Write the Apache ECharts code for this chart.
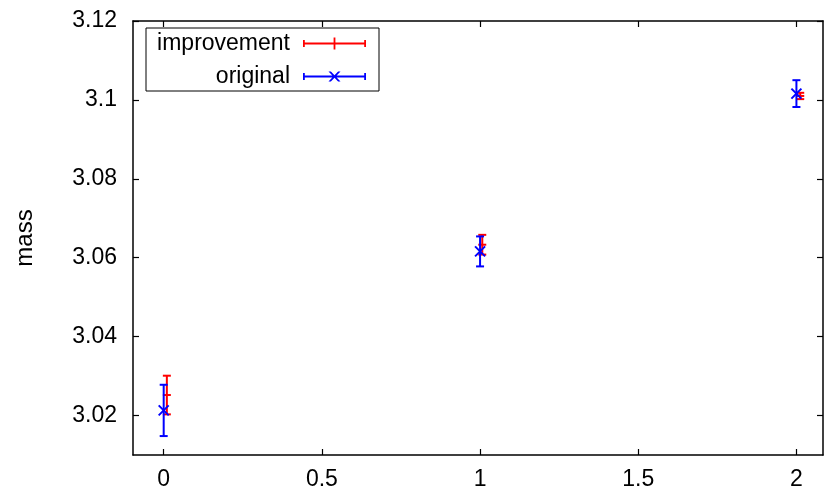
<!DOCTYPE html>
<html>
<head>
<meta charset="utf-8">
<script src="https://cdn.jsdelivr.net/npm/echarts@6/dist/echarts.min.js"></script>
<style>
  html, body { margin: 0; padding: 0; background: #fff; }
  #chart { width: 828px; height: 495px; }
</style>
</head>
<body>
<div id="chart"></div>
<script>
// values
const improvementX = [0.01, 1.007, 2.012];
const improvementY = [3.0252, 3.0633, 3.1010];
const improvementErr = [0.0049, 0.0025, 0.0008];

const originalX = [0, 1, 2];
const originalY = [3.0213, 3.0616, 3.1016];
const originalErr = [0.0065, 0.0038, 0.0034];

const xTicks = [0, 0.5, 1, 1.5, 2];
const yTicks = [3.02, 3.04, 3.06, 3.08, 3.1, 3.12];

const FONT = '"Liberation Sans", Arial, Helvetica, sans-serif';
const FS = 23;

const toData = (xs, ys, es) => xs.map((x, i) => [x, ys[i], ys[i] - es[i], ys[i] + es[i]]);

// error bar + point symbol
const makeRender = (color, mark) => (params, api) => {
  const x = api.value(0);
  const c = api.coord([x, api.value(1)]);
  const lo = api.coord([x, api.value(2)]);
  const hi = api.coord([x, api.value(3)]);
  const cap = 4;
  const style = { stroke: color, lineWidth: 2 };
  const kids = [
    { type: 'line', shape: { x1: lo[0], y1: lo[1], x2: hi[0], y2: hi[1] }, style },
    { type: 'line', shape: { x1: lo[0] - cap, y1: lo[1], x2: lo[0] + cap, y2: lo[1] }, style },
    { type: 'line', shape: { x1: hi[0] - cap, y1: hi[1], x2: hi[0] + cap, y2: hi[1] }, style }
  ];
  if (mark === 'plus') {
    kids.push({ type: 'line', shape: { x1: c[0] - 4, y1: c[1], x2: c[0] + 4, y2: c[1] }, style });
  } else {
    const s = 5;
    kids.push({ type: 'line', shape: { x1: c[0] - s, y1: c[1] - s, x2: c[0] + s, y2: c[1] + s }, style });
    kids.push({ type: 'line', shape: { x1: c[0] - s, y1: c[1] + s, x2: c[0] + s, y2: c[1] - s }, style });
  }
  return { type: 'group', children: kids };
};

const redIcon = 'path://M0,2.5h1.8v7h-1.8z M61.2,2.5h1.8v7h-1.8z M0,5.1h63v1.8h-63z M30.6,0h1.8v12h-1.8z';
const blueIcon = 'path://M0,2.5h1.8v7h-1.8z M61.2,2.5h1.8v7h-1.8z M0,5.1h63v1.8h-63z ' +
  'M25.5,1L27.9,1L37.5,11L35.1,11z M35.1,1L37.5,1L27.9,11L25.5,11z M0,0h0.01v12h-0.01z';

const axisCommon = {
  type: 'value',
  axisLine: { show: true, onZero: false, lineStyle: { color: '#000', width: 1.5 } },
  axisTick: { show: true, inside: true, length: 6, lineStyle: { color: '#000', width: 1.2 } },
  splitLine: { show: false }
};

const chart = echarts.init(document.getElementById('chart'));
chart.setOption({
  animation: false,
  backgroundColor: '#fff',
  textStyle: { fontFamily: FONT },
  grid: { left: 133, right: 5, top: 21, bottom: 40 },
  legend: {
    left: 146,
    top: 28,
    orient: 'vertical',
    align: 'right',
    itemWidth: 63,
    itemHeight: 12,
    itemGap: 10,
    padding: [4, 13, 3, 4],
    borderColor: '#000',
    borderWidth: 1,
    borderRadius: 0,
    selectedMode: false,
    textStyle: {
      fontFamily: FONT, fontSize: FS, color: '#000',
      width: 140, align: 'right', lineHeight: 22, padding: [0, 8, 0, 0]
    },
    data: [
      { name: 'improvement', icon: redIcon },
      { name: 'original', icon: blueIcon }
    ]
  },
  xAxis: [
    Object.assign({}, axisCommon, {
      min: -0.097, max: 2.084, position: 'bottom',
      axisTick: Object.assign({}, axisCommon.axisTick, { customValues: xTicks }),
      axisLabel: {
        customValues: xTicks, fontSize: FS, color: '#000', margin: 13, fontFamily: FONT,
        formatter: v => String(+(+v).toFixed(2))
      }
    }),
    Object.assign({}, axisCommon, {
      min: -0.097, max: 2.084, position: 'top',
      axisTick: Object.assign({}, axisCommon.axisTick, { customValues: xTicks }),
      axisLabel: { show: false }
    })
  ],
  yAxis: [
    Object.assign({}, axisCommon, {
      min: 3.01, max: 3.12, position: 'left',
      name: 'mass', nameLocation: 'middle', nameRotate: 90, nameGap: 96,
      nameTextStyle: { fontSize: FS + 1, color: '#000', fontFamily: FONT },
      axisTick: Object.assign({}, axisCommon.axisTick, { customValues: yTicks }),
      axisLabel: {
        customValues: yTicks, fontSize: FS, color: '#000', margin: 16, fontFamily: FONT,
        formatter: v => String(+(+v).toFixed(2))
      }
    }),
    Object.assign({}, axisCommon, {
      min: 3.01, max: 3.12, position: 'right',
      axisTick: Object.assign({}, axisCommon.axisTick, { customValues: yTicks }),
      axisLabel: { show: false }
    })
  ],
  series: [
    {
      name: 'improvement',
      type: 'custom',
      xAxisIndex: 0, yAxisIndex: 0,
      itemStyle: { color: '#ff0000' },
      renderItem: makeRender('#ff0000', 'plus'),
      encode: { x: 0, y: [1, 2, 3] },
      data: toData(improvementX, improvementY, improvementErr),
      z: 2
    },
    {
      name: 'original',
      type: 'custom',
      xAxisIndex: 0, yAxisIndex: 0,
      itemStyle: { color: '#0000ff' },
      renderItem: makeRender('#0000ff', 'cross'),
      encode: { x: 0, y: [1, 2, 3] },
      data: toData(originalX, originalY, originalErr),
      z: 3
    }
  ]
});
</script>
</body>
</html>
